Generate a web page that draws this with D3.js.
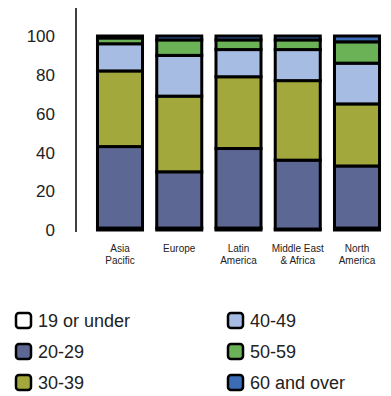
<!DOCTYPE html>
<html>
<head>
<meta charset="utf-8">
<script src="https://cdn.jsdelivr.net/npm/d3@7"></script>
<style>
  html, body { margin: 0; padding: 0; background: #fff; }
  svg { display: block; }
  text { font-family: "Liberation Sans", Arial, sans-serif; fill: #222; }
</style>
</head>
<body>
<svg id="chart" width="391" height="396"></svg>
<script>
// Regions along the x axis (label lines)
const regions = ["Asia Pacific", "Europe", "Latin America", "Middle East & Africa", "North America"];
const regionLines = [["Asia", "Pacific"], ["Europe"], ["Latin", "America"], ["Middle East", "& Africa"], ["North", "America"]];

// Age groups, bottom to top
const ageGroups = ["19 or under", "20-29", "30-39", "40-49", "50-59", "60 and over"];
const ageColors = ["#ffffff", "#5c6794", "#a2a83b", "#a6bce2", "#6bb156", "#3b6cb5"];

// Share of each age group per region (%)
const under19 = [1, 1, 1, 0.5, 1];
const age20s  = [42, 29, 41, 35.5, 32];
const age30s  = [39, 39, 37, 41, 32];
const age40s  = [14, 21, 14, 16, 21];
const age50s  = [3, 8, 5, 5, 11];
const over60  = [1, 2, 2, 2, 3];

const yTicks = [0, 20, 40, 60, 80, 100];

const series = [under19, age20s, age30s, age40s, age50s, over60];
const table = regions.map((r, i) => {
  const row = { region: r };
  ageGroups.forEach((g, k) => { row[g] = series[k][i]; });
  return row;
});

const svg = d3.select("#chart");

const x = d3.scaleBand()
  .domain(regions)
  .range([88, 389])
  .paddingInner(0.24)
  .paddingOuter(0.16);

const y = d3.scaleLinear().domain([0, 100]).range([230, 36]);

const color = d3.scaleOrdinal().domain(ageGroups).range(ageColors);

// Y axis: a plain vertical rule with labels, no tick marks
svg.append("line")
  .attr("x1", 76).attr("x2", 76)
  .attr("y1", 8).attr("y2", 232)
  .attr("stroke", "#000").attr("stroke-width", 1.5);

svg.append("g").selectAll("text")
  .data(yTicks)
  .join("text")
  .attr("x", 55)
  .attr("y", d => y(d))
  .attr("dy", "0.36em")
  .attr("text-anchor", "end")
  .attr("font-size", 17)
  .text(d => d);

// Stacked bars
const stacked = d3.stack().keys(ageGroups)(table);

svg.append("g").selectAll("g")
  .data(stacked)
  .join("g")
  .attr("fill", d => color(d.key))
  .selectAll("rect")
  .data(d => d)
  .join("rect")
  .attr("x", d => x(d.data.region))
  .attr("width", x.bandwidth())
  .attr("y", d => y(d[1]))
  .attr("height", d => y(d[0]) - y(d[1]))
  .attr("stroke", "#000")
  .attr("stroke-width", 3);

// Region labels under the bars
const labels = svg.append("g").selectAll("text")
  .data(regions)
  .join("text")
  .attr("x", d => x(d) + x.bandwidth() / 2)
  .attr("y", 252)
  .attr("text-anchor", "middle")
  .attr("font-size", 10);

labels.selectAll("tspan")
  .data((d, i) => regionLines[i])
  .join("tspan")
  .attr("x", function () { return d3.select(this.parentNode).attr("x"); })
  .attr("dy", (d, i) => i === 0 ? 0 : 12)
  .text(d => d);

// Legend in two columns
const legend = svg.append("g").selectAll("g")
  .data(ageGroups)
  .join("g")
  .attr("transform", (d, i) => {
    const col = Math.floor(i / 3), row = i % 3;
    return `translate(${col === 0 ? 16 : 228},${313 + row * 31})`;
  });

legend.append("rect")
  .attr("width", 15).attr("height", 15)
  .attr("rx", 3).attr("ry", 3)
  .attr("fill", d => color(d))
  .attr("stroke", "#000")
  .attr("stroke-width", 2.5);

legend.append("text")
  .attr("x", 22)
  .attr("y", 8)
  .attr("dy", "0.36em")
  .attr("font-size", 18)
  .text(d => d);
</script>
</body>
</html>
